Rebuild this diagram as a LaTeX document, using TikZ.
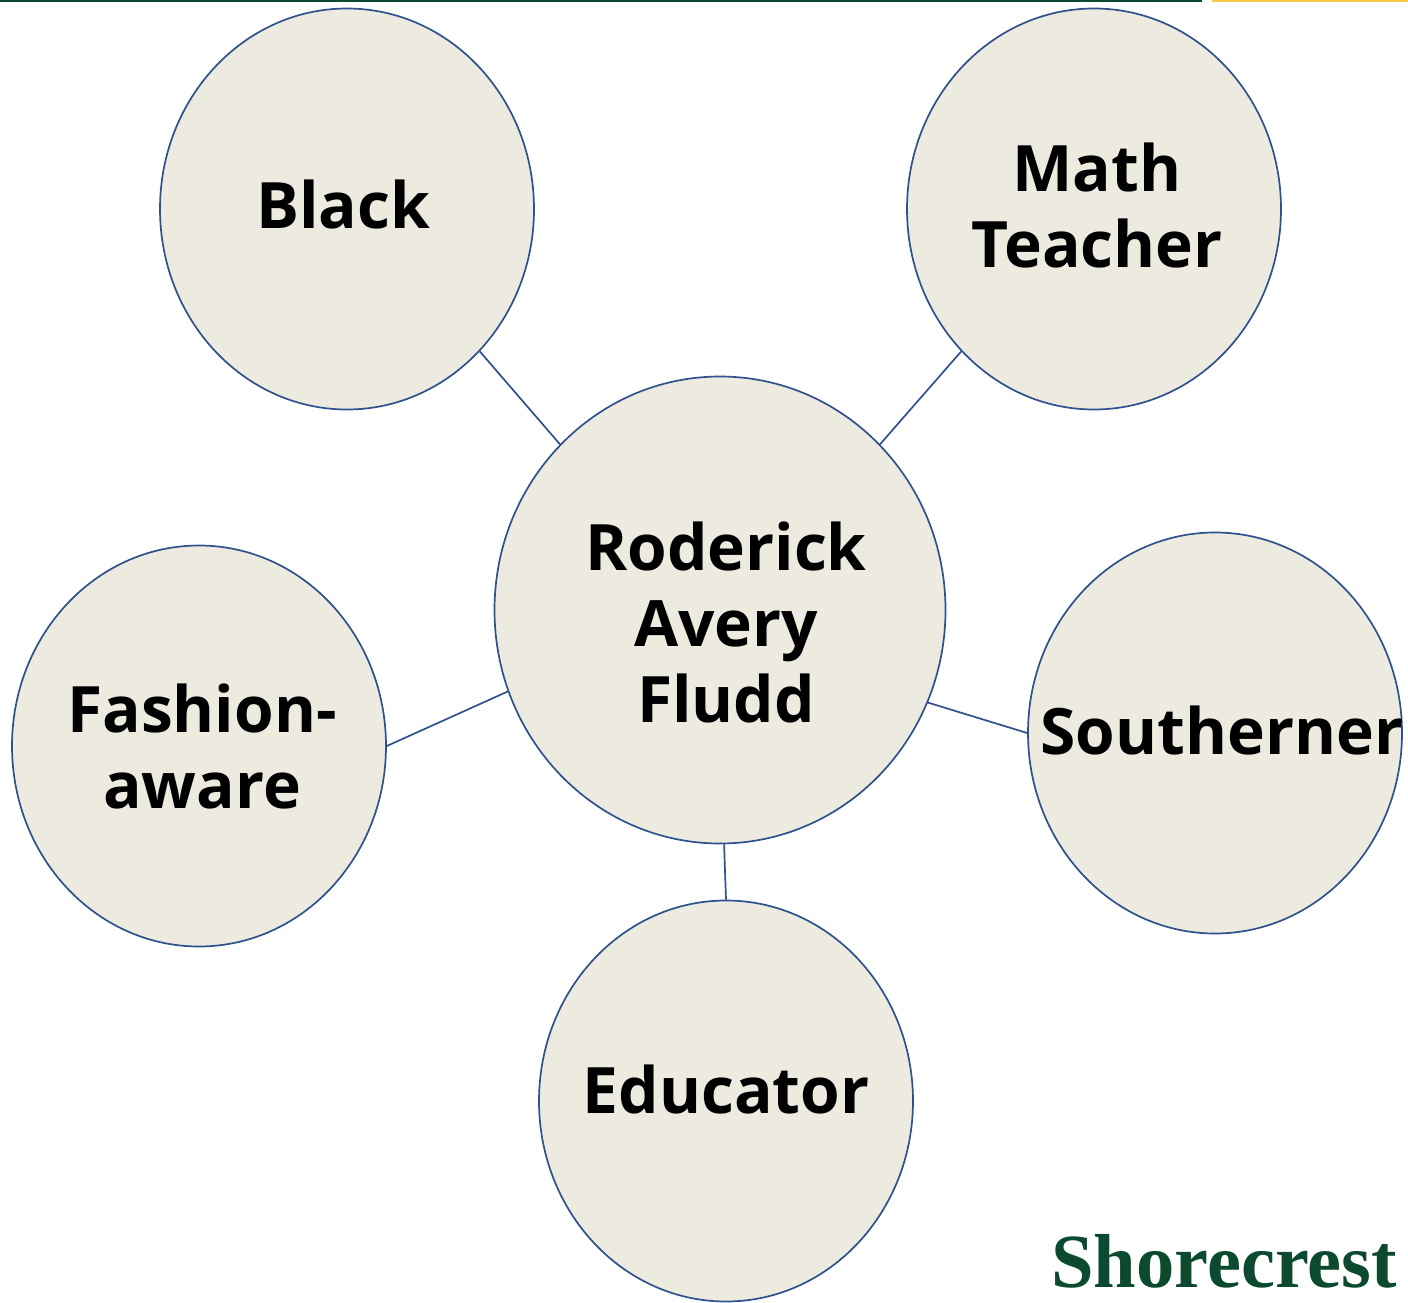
\documentclass[tikz,border=0pt]{standalone}
\usepackage{fontspec}
\setmainfont{Open Sans}
\newfontfamily\logofont{Liberation Serif}
\usetikzlibrary{shapes.geometric}
\definecolor{bubblefill}{HTML}{EDEAE0}
\definecolor{bubbleline}{HTML}{2F528F}
\definecolor{shoregreen}{HTML}{0B4A2E}
\definecolor{baryellow}{HTML}{F9C846}
\tikzset{
  bubble/.style={ellipse, draw=bubbleline, fill=bubblefill, line width=1.7pt, inner sep=0pt, minimum width=374pt, minimum height=401pt},
  link/.style={draw=bubbleline, line width=1.7pt},
  lbl/.style={font=\fontsize{64}{76}\selectfont\bfseries, align=center, inner sep=0pt, anchor=base}
}
\begin{document}
\begin{tikzpicture}[x=1pt,y=-1pt]
\useasboundingbox (0,0) rectangle (1408,1303);
\fill[shoregreen] (0,0) rectangle (1202,2);
\fill[baryellow] (1212,0) rectangle (1408,2);
\node[bubble] (black) at (347,209) {};
\node[bubble] (math) at (1094,209) {};
\node[bubble, minimum width=451pt, minimum height=467pt] (center) at (720,610) {};
\node[bubble] (fashion) at (199,746) {};
\node[bubble] (south) at (1215,733) {};
\node[bubble] (edu) at (726,1101) {};
\draw[link] (black.-47) -- (center.134);
\draw[link] (math.227) -- (center.46);
\draw[link] (fashion.0) -- (center.201.6);
\draw[link] (south.180) -- (center.-24);
\draw[link] (edu.90) -- (center.-89.5);
\node[lbl] (tblack) at (343,228) {Black};
\node[lbl] (tmath) at (1097,267) {Math\\Teacher};
\node[lbl] (tcenter) at (726,722) {Roderick\\Avery\\Fludd};
\node[lbl] (tfashion) at (202,808) {Fashion-\\aware};
\node[lbl] (tsouth) at (1222,754) {Southerner};
\node[lbl] (tedu) at (726,1113) {Educator};
\node[font=\fontsize{76.5}{80}\selectfont\logofont\bfseries, text=shoregreen, inner sep=0pt, anchor=base] (logo) at (1224,1287) {Shorecrest};
\end{tikzpicture}
\end{document}
